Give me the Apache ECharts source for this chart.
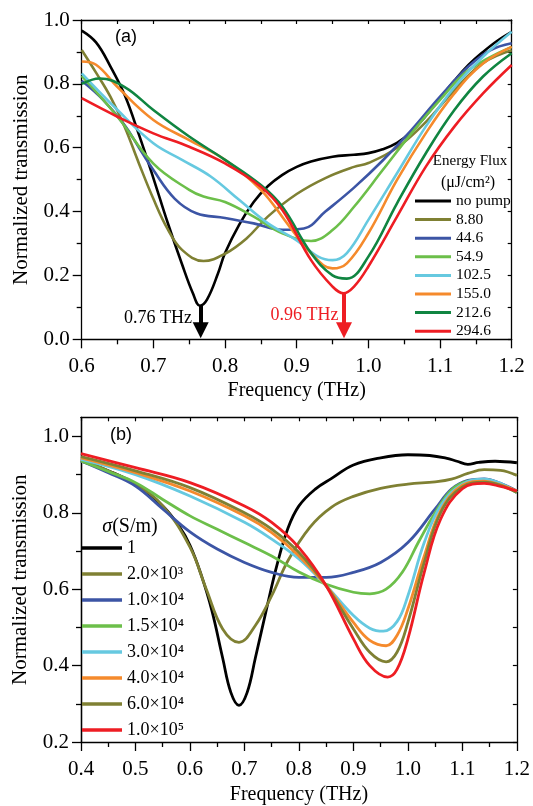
<!DOCTYPE html>
<html><head><meta charset="utf-8">
<script src="https://cdn.jsdelivr.net/npm/echarts@6/dist/echarts.min.js"></script>
<style>html,body{margin:0;padding:0;background:#fff}#c{width:533px;height:806px}</style>
</head><body><div id="c"></div>
<script>
// ---------- Panel (a): Energy flux ----------
const fluxNames = ['no pump', '8.80', '44.6', '54.9', '102.5', '155.0', '212.6', '294.6'];
const fluxColors = ['#000000', '#7f8033', '#3c55a5', '#6cbf4a', '#66c9e0', '#f58a2c', '#108541', '#ee1d23'];
const fluxRangeX = [0.6, 1.2];
const fluxRangeY = [0.0, 1.0];
const tNoPump = [[0.60,0.967],[0.62,0.93],[0.64,0.855],[0.66,0.765],[0.68,0.64],[0.70,0.505],[0.72,0.365],[0.74,0.235],[0.755,0.145],[0.765,0.105],[0.775,0.125],[0.79,0.205],[0.80,0.27],[0.82,0.36],[0.84,0.43],[0.86,0.48],[0.88,0.515],[0.90,0.54],[0.92,0.557],[0.95,0.572],[0.98,0.578],[1.00,0.583],[1.02,0.595],[1.04,0.615],[1.06,0.65],[1.08,0.70],[1.10,0.755],[1.12,0.81],[1.14,0.86],[1.16,0.90],[1.18,0.935],[1.20,0.963]];
const t880 = [[0.60,0.906],[0.62,0.835],[0.64,0.76],[0.66,0.665],[0.68,0.55],[0.70,0.44],[0.72,0.345],[0.74,0.28],[0.77,0.245],[0.80,0.268],[0.83,0.316],[0.86,0.385],[0.90,0.455],[0.94,0.505],[0.98,0.54],[1.00,0.552],[1.04,0.60],[1.08,0.68],[1.12,0.78],[1.16,0.865],[1.20,0.905]];
const t446 = [[0.60,0.81],[0.63,0.75],[0.66,0.67],[0.68,0.60],[0.70,0.53],[0.73,0.44],[0.76,0.395],[0.80,0.38],[0.84,0.363],[0.88,0.343],[0.91,0.347],[0.94,0.40],[0.98,0.475],[1.02,0.56],[1.06,0.655],[1.10,0.76],[1.14,0.855],[1.17,0.905],[1.20,0.927]];
const t549 = [[0.60,0.825],[0.65,0.697],[0.70,0.55],[0.75,0.468],[0.77,0.447],[0.80,0.43],[0.84,0.384],[0.88,0.332],[0.92,0.308],[0.95,0.342],[0.98,0.415],[1.02,0.53],[1.06,0.645],[1.10,0.75],[1.14,0.843],[1.20,0.916]];
const t1025 = [[0.60,0.833],[0.65,0.718],[0.70,0.614],[0.74,0.562],[0.78,0.51],[0.82,0.436],[0.86,0.363],[0.90,0.31],[0.93,0.259],[0.95,0.248],[0.97,0.27],[1.00,0.374],[1.04,0.52],[1.08,0.666],[1.12,0.79],[1.16,0.885],[1.20,0.963]];
const t1550 = [[0.60,0.87],[0.62,0.86],[0.65,0.79],[0.70,0.687],[0.75,0.624],[0.80,0.562],[0.85,0.468],[0.89,0.353],[0.92,0.27],[0.95,0.222],[0.97,0.238],[1.00,0.332],[1.04,0.499],[1.08,0.645],[1.12,0.77],[1.16,0.864],[1.20,0.916]];
const t2126 = [[0.60,0.80],[0.625,0.817],[0.66,0.79],[0.70,0.718],[0.75,0.635],[0.80,0.562],[0.85,0.483],[0.88,0.415],[0.92,0.27],[0.95,0.20],[0.97,0.19],[1.00,0.259],[1.04,0.426],[1.08,0.582],[1.12,0.718],[1.16,0.823],[1.20,0.896]];
const t2946 = [[0.60,0.755],[0.65,0.697],[0.70,0.645],[0.75,0.603],[0.80,0.551],[0.85,0.478],[0.88,0.405],[0.92,0.248],[0.95,0.165],[0.965,0.144],[0.98,0.165],[1.00,0.228],[1.04,0.384],[1.08,0.54],[1.12,0.666],[1.16,0.77],[1.20,0.859]];
const fluxData = [tNoPump, t880, t446, t549, t1025, t1550, t2126, t2946];
// annotations (a): arrow [x, from, to], label [x, y]
const arrowBlack = [0.766, 0.105, 0.028];
const arrowRed = [0.966, 0.144, 0.028];
const labelBlack = [0.7065, 0.067];
const labelRed = [0.911, 0.074];

// ---------- Panel (b): conductivity ----------
const sigmaNames = ['1', '2.0×10³', '1.0×10⁴', '1.5×10⁴', '3.0×10⁴', '4.0×10⁴', '6.0×10⁴', '1.0×10⁵'];
const sigmaColors = ['#000000', '#7f8033', '#3c55a5', '#6cbf4a', '#66c9e0', '#f58a2c', '#7f8033', '#ee1d23'];
const sigmaRangeX = [0.4, 1.2];
const sigmaRangeY = [0.2, 1.05];
const sigmaTicksY = [0.2, 0.4, 0.6, 0.8, 1.0];
const sigmaMinorY = [0.3, 0.5, 0.7, 0.9];
const sigmaRightY = [0.2, 0.3, 0.4, 0.5, 0.6, 0.7, 0.8, 0.9, 1.0];
const s1 = [[0.40,0.936],[0.45,0.91],[0.50,0.875],[0.55,0.818],[0.58,0.765],[0.60,0.715],[0.62,0.64],[0.64,0.545],[0.66,0.42],[0.675,0.33],[0.69,0.296],[0.705,0.33],[0.72,0.42],[0.74,0.545],[0.76,0.665],[0.78,0.76],[0.80,0.818],[0.83,0.862],[0.86,0.89],[0.90,0.925],[0.95,0.944],[1.00,0.952],[1.04,0.95],[1.07,0.943],[1.09,0.935],[1.11,0.927],[1.13,0.932],[1.16,0.935],[1.20,0.931]];
const s2 = [[0.40,0.94],[0.45,0.91],[0.50,0.875],[0.55,0.818],[0.60,0.71],[0.63,0.60],[0.66,0.496],[0.69,0.461],[0.72,0.505],[0.75,0.583],[0.78,0.675],[0.82,0.762],[0.86,0.815],[0.90,0.843],[0.95,0.864],[1.00,0.875],[1.05,0.881],[1.08,0.888],[1.11,0.903],[1.14,0.913],[1.17,0.911],[1.20,0.898]];
const s3 = [[0.40,0.936],[0.45,0.905],[0.50,0.87],[0.55,0.81],[0.60,0.75],[0.65,0.705],[0.70,0.67],[0.75,0.644],[0.80,0.631],[0.85,0.631],[0.90,0.644],[0.95,0.67],[1.00,0.722],[1.05,0.81],[1.08,0.862],[1.11,0.885],[1.14,0.889],[1.17,0.877],[1.20,0.857]];
const s4 = [[0.40,0.936],[0.45,0.908],[0.50,0.879],[0.55,0.835],[0.60,0.792],[0.65,0.757],[0.70,0.722],[0.75,0.687],[0.80,0.645],[0.85,0.613],[0.90,0.592],[0.93,0.588],[0.96,0.60],[0.99,0.645],[1.02,0.725],[1.05,0.80],[1.08,0.86],[1.11,0.883],[1.14,0.887],[1.17,0.875],[1.20,0.853]];
const s5 = [[0.40,0.94],[0.50,0.90],[0.60,0.844],[0.70,0.775],[0.75,0.731],[0.80,0.679],[0.85,0.609],[0.90,0.531],[0.93,0.498],[0.955,0.49],[0.98,0.515],[1.00,0.583],[1.03,0.722],[1.06,0.818],[1.10,0.875],[1.14,0.888],[1.17,0.877],[1.20,0.853]];
const s6 = [[0.40,0.944],[0.50,0.905],[0.60,0.857],[0.70,0.792],[0.75,0.748],[0.80,0.687],[0.85,0.609],[0.90,0.513],[0.93,0.466],[0.96,0.452],[0.98,0.479],[1.00,0.548],[1.03,0.687],[1.06,0.805],[1.10,0.872],[1.14,0.883],[1.17,0.873],[1.20,0.857]];
const s7 = [[0.40,0.947],[0.50,0.91],[0.60,0.866],[0.70,0.80],[0.75,0.757],[0.80,0.696],[0.85,0.609],[0.90,0.496],[0.93,0.435],[0.96,0.41],[0.98,0.435],[1.00,0.513],[1.03,0.67],[1.06,0.80],[1.10,0.868],[1.14,0.88],[1.17,0.872],[1.20,0.853]];
const s8 = [[0.40,0.955],[0.50,0.918],[0.60,0.879],[0.70,0.818],[0.75,0.775],[0.80,0.709],[0.85,0.609],[0.90,0.47],[0.93,0.40],[0.963,0.37],[0.98,0.39],[1.00,0.47],[1.03,0.644],[1.06,0.783],[1.10,0.863],[1.14,0.877],[1.17,0.869],[1.20,0.857]];
const sigmaData = [s1, s2, s3, s4, s5, s6, s7, s8];

const SERIF = 'Liberation Serif';
function aLine() { return { show: true, onZero: false, lineStyle: { color: '#000', width: 1.3 } }; }
function tStyle(w) { return { color: '#000', width: w }; }
function bottomX(gi, rng, gap) {
  return {
    type: 'value', gridIndex: gi, position: 'bottom', min: rng[0], max: rng[1], interval: 0.1,
    axisLine: aLine(), splitLine: { show: false },
    axisTick: { show: true, length: 9, lineStyle: tStyle(1.3) },
    minorTick: { show: true, splitNumber: 2, length: 5, lineStyle: tStyle(1.3) },
    axisLabel: { fontFamily: SERIF, fontSize: 21, color: '#000', margin: 17, formatter: v => v.toFixed(1) },
    name: 'Frequency (THz)', nameLocation: 'middle', nameGap: gap,
    nameTextStyle: { fontFamily: SERIF, fontSize: 20, color: '#000' }
  };
}
function topX(gi, rng) {
  return {
    type: 'value', gridIndex: gi, position: 'top', min: rng[0], max: rng[1], interval: 0.05,
    axisLine: aLine(), splitLine: { show: false },
    axisTick: { show: true, inside: true, length: 4, lineStyle: tStyle(1.2) },
    axisLabel: { show: false }
  };
}
function yTitle() {
  return { name: 'Normalized transmission', nameLocation: 'middle', nameGap: 50,
    nameTextStyle: { fontFamily: SERIF, fontSize: 21, color: '#000' } };
}

const series = [];
fluxNames.forEach((n, i) => {
  series.push({ name: n, type: 'line', xAxisIndex: 0, yAxisIndex: 0, data: fluxData[i],
    showSymbol: false, smooth: 0.4, lineStyle: { color: fluxColors[i], width: 2.6 },
    itemStyle: { color: fluxColors[i] }, z: 2 + i });
});
function arrow(a, color) {
  return { silent: true, animation: false, symbol: ['none', 'triangle'], symbolSize: 16,
    lineStyle: { color: color, width: 4, type: 'solid' }, label: { show: false },
    data: [[{ coord: [a[0], a[1]] }, { coord: [a[0], a[2]] }]] };
}
series[0].markLine = arrow(arrowBlack, '#000');
series[7].markLine = arrow(arrowRed, '#ee1d23');

sigmaNames.forEach((n, i) => {
  series.push({ name: n, type: 'line', xAxisIndex: 2, yAxisIndex: 2, data: sigmaData[i],
    showSymbol: false, smooth: 0.4, lineStyle: { color: sigmaColors[i], width: 2.8 },
    itemStyle: { color: sigmaColors[i] }, z: 2 + i });
});

const option = {
  animation: false,
  backgroundColor: '#fff',
  grid: [
    { left: 81.7, right: 21.3, top: 20, bottom: 466.7 },
    { left: 81, right: 16, top: 417.3, bottom: 62.7 }
  ],
  xAxis: [
    bottomX(0, fluxRangeX, 41),
    topX(0, fluxRangeX),
    bottomX(1, sigmaRangeX, 43),
    topX(1, sigmaRangeX)
  ],
  yAxis: [
    Object.assign({
      type: 'value', gridIndex: 0, position: 'left', min: fluxRangeY[0], max: fluxRangeY[1], interval: 0.2,
      axisLine: aLine(), splitLine: { show: false },
      axisTick: { show: true, length: 9, lineStyle: tStyle(1.3) },
      minorTick: { show: true, splitNumber: 2, length: 5, lineStyle: tStyle(1.3) },
      axisLabel: { fontFamily: SERIF, fontSize: 21, color: '#000', margin: 12, formatter: v => v.toFixed(1) }
    }, yTitle()),
    {
      type: 'value', gridIndex: 0, position: 'right', min: fluxRangeY[0], max: fluxRangeY[1], interval: 0.1,
      axisLine: aLine(), splitLine: { show: false },
      axisTick: { show: true, inside: true, length: 4, lineStyle: tStyle(1.2) },
      axisLabel: { show: false }
    },
    Object.assign({
      type: 'value', gridIndex: 1, position: 'left', min: sigmaRangeY[0], max: sigmaRangeY[1],
      axisLine: aLine(), splitLine: { show: false },
      axisTick: { show: true, length: 9, customValues: sigmaTicksY, lineStyle: tStyle(1.3) },
      axisLabel: { fontFamily: SERIF, fontSize: 21, color: '#000', margin: 12, customValues: sigmaTicksY, formatter: v => v.toFixed(1) }
    }, yTitle()),
    {
      type: 'value', gridIndex: 1, position: 'right', min: sigmaRangeY[0], max: sigmaRangeY[1],
      axisLine: aLine(), splitLine: { show: false },
      axisTick: { show: true, inside: true, length: 4, customValues: sigmaRightY, lineStyle: tStyle(1.2) },
      axisLabel: { show: true, customValues: sigmaRightY, formatter: () => '' }
    },
    {
      type: 'value', gridIndex: 1, position: 'left', min: sigmaRangeY[0], max: sigmaRangeY[1],
      axisLine: aLine(), splitLine: { show: false },
      axisTick: { show: true, length: 5, customValues: sigmaMinorY, lineStyle: tStyle(1.3) },
      axisLabel: { show: true, customValues: sigmaMinorY, formatter: () => '' }
    }
  ],
  legend: [
    { data: fluxNames, orient: 'vertical', left: 415, top: 193, padding: 0, itemGap: 2.6,
      itemWidth: 36, itemHeight: 3, icon: 'rect', selectedMode: false,
      textStyle: { fontFamily: SERIF, fontSize: 15.5, lineHeight: 15.6, color: '#000' } },
    { data: sigmaNames, orient: 'vertical', left: 82, top: 538, padding: 0, itemGap: 6,
      itemWidth: 40, itemHeight: 3.5, icon: 'rect', selectedMode: false,
      textStyle: { fontFamily: SERIF, fontSize: 18, lineHeight: 20, color: '#000' } }
  ],
  series: series
};
const chart = echarts.init(document.getElementById('c'), null, { renderer: 'canvas' });
chart.setOption(option);

// text annotations placed through the chart's own coordinate conversion
const pB = chart.convertToPixel({ gridIndex: 0 }, labelBlack);
const pR = chart.convertToPixel({ gridIndex: 0 }, labelRed);
function txt(x, y, text, size, family, color, align) {
  return { type: 'text', x: x, y: y, silent: true,
    style: { text: text, fontSize: size, fontFamily: family, fill: color, align: align || 'center', verticalAlign: 'middle' } };
}
chart.setOption({
  graphic: [
    txt(115, 37.5, '(a)', 18, 'Liberation Sans', '#000', 'left'),
    txt(110, 435.5, '(b)', 18, 'Liberation Sans', '#000', 'left'),
    txt(470, 161, 'Energy Flux', 15, SERIF, '#000'),
    txt(468, 183, '(μJ/cm²)', 16, SERIF, '#000'),
    { type: 'text', x: 130, y: 527, silent: true, style: { text: '{i|σ}{a|(S/m)}', align: 'center', verticalAlign: 'middle',
        rich: { i: { fontFamily: SERIF, fontStyle: 'italic', fontSize: 20, fill: '#000' }, a: { fontFamily: SERIF, fontSize: 20, fill: '#000' } } } },
    txt(pB[0], pB[1], '0.76 THz', 18, SERIF, '#000'),
    txt(pR[0], pR[1], '0.96 THz', 18, SERIF, '#ee1d23')
  ]
});
</script></body></html>
